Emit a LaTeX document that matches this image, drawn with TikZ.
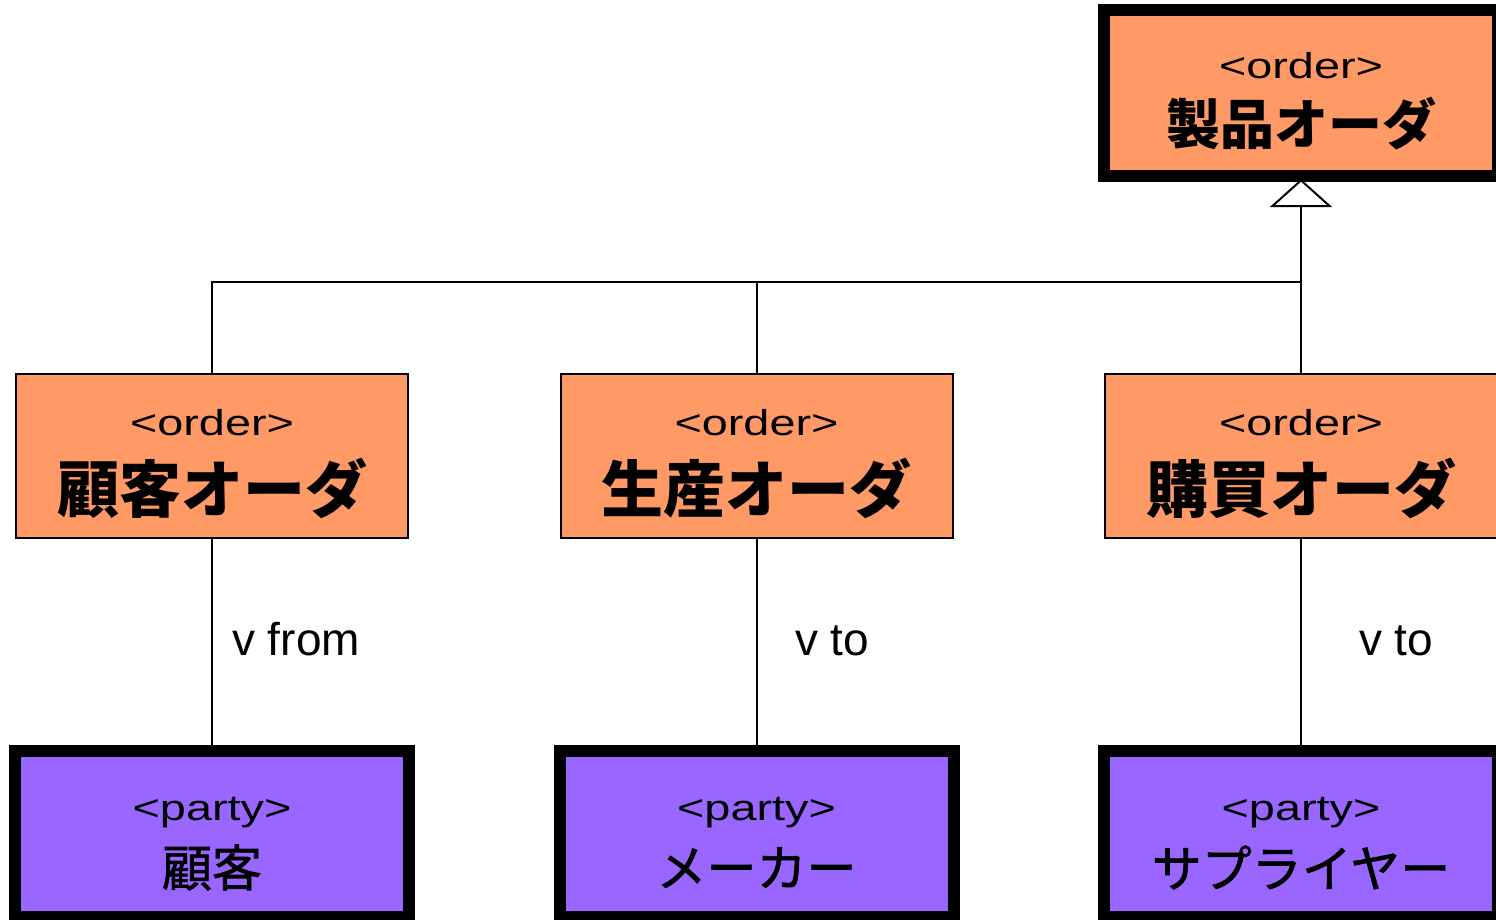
\documentclass[tikz,border=0pt]{standalone}
\usepackage{fontspec}
\setmainfont{Liberation Sans}
\newfontfamily\cjk{Noto Sans CJK JP}
\newfontfamily\cjkmed{Noto Sans CJK JP}[FakeBold=1.3]
\usetikzlibrary{arrows.meta}
\definecolor{orderfill}{HTML}{FF9966}
\definecolor{partyfill}{HTML}{9966FF}
\tikzset{
  thickbox/.style={draw=black, line width=12pt, minimum width=394pt, minimum height=166pt, inner sep=0pt},
  orderbox/.style={draw=black, line width=2pt, fill=orderfill, minimum width=392pt, minimum height=164pt, inner sep=0pt},
  topbox/.style={thickbox, fill=orderfill},
  partybox/.style={thickbox, fill=partyfill},
  stereo/.style={inner sep=0pt, anchor=base, font=\fontsize{36}{40}\selectfont},
  cjkbig/.style={inner sep=0pt, anchor=center, font=\cjk\bfseries\fontsize{62}{70}\selectfont},
  cjktop/.style={inner sep=0pt, anchor=center, font=\cjk\bfseries\fontsize{54}{60}\selectfont},
  cjksmall/.style={inner sep=0pt, anchor=center, font=\cjkmed\fontsize{50}{56}\selectfont},
  role/.style={inner sep=0pt, anchor=base west, font=\fontsize{46}{50}\selectfont},
  conn/.style={draw=black, line width=2pt},
}
\newcommand{\wide}[1]{\scalebox{1.3}[1]{#1}}
\begin{document}
\begin{tikzpicture}[x=1pt, y=-1pt]
\useasboundingbox (0,0) rectangle (1496,919);
\clip (0,0) rectangle (1496,919);
\fill[white] (0,0) rectangle (1496,919);

% top
\node[topbox] (top) at (1301,93) {};
\node[stereo] (topS) at ([yshift=15pt]top.center) {\wide{<order>}};
\node[cjktop] (topJ) at ([yshift=-31pt]top.center) {製品オーダ};

% middle
\node[orderbox] (ol) at (212,456) {};
\node[orderbox] (om) at (756.5,456) {};
\node[orderbox] (or) at (1301,456) {};
\foreach \n/\t in {ol/顧客オーダ, om/生産オーダ, or/購買オーダ}{
  \node[stereo] (\n S) at ([yshift=21pt]\n.center) {\wide{<order>}};
  \node[cjkbig] (\n J) at ([yshift=-32.5pt]\n.center) {\t};
}

% bottom
\node[partybox] (pl) at (212,834) {};
\node[partybox] (pm) at (756.5,834) {};
\node[partybox] (pr) at (1301,834) {};
\foreach \n/\t in {pl/顧客, pm/メーカー, pr/サプライヤー}{
  \node[stereo] (\n S) at ([yshift=14pt]\n.center) {\wide{<party>}};
  \node[cjksmall] (\n J) at ([yshift=-33.5pt]\n.center) {\t};
}

% generalisation
\coordinate (bus) at (1301,282);
\draw[conn] (ol.north) |- (bus);
\draw[conn] (om.north) -- (om.north |- bus);
\draw[conn] (or.north) -- (bus);
\draw[conn, shorten >=-3pt, -{Triangle[length=28pt, width=62pt, fill=white, line width=2pt]}] (bus) -- (top.south);

% associations
\draw[conn] (ol.south) -- (pl.north);
\draw[conn] (om.south) -- (pm.north);
\draw[conn] (or.south) -- (pr.north);

\node[role] (rl) at (232,655) {v from};
\node[role] (rm) at (795,655) {v to};
\node[role] (rr) at (1359,655) {v to};
\end{tikzpicture}
\end{document}
